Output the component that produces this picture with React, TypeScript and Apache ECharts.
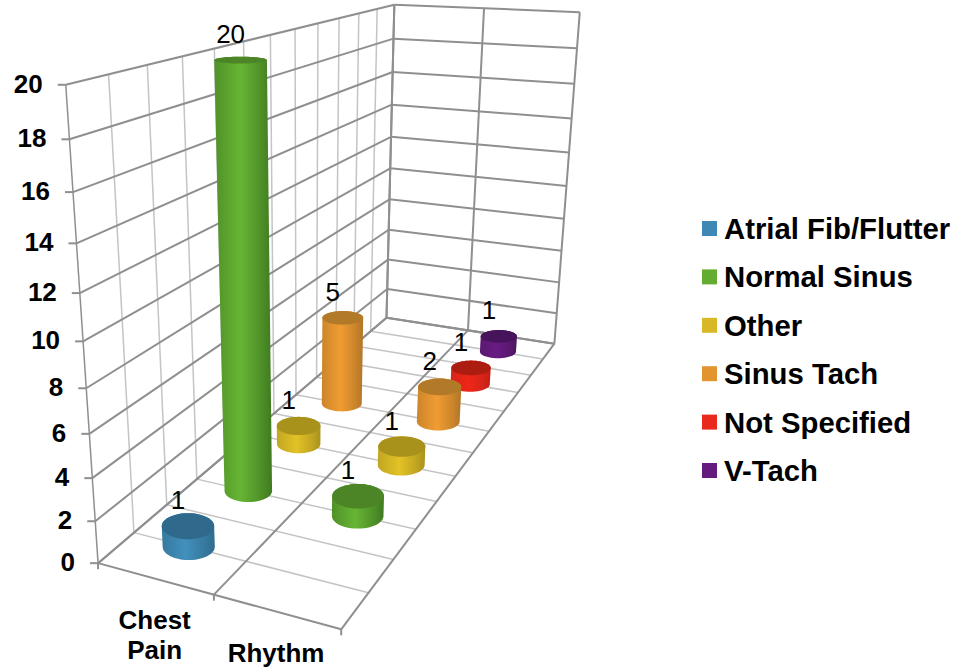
import React, { useEffect, useRef } from "react";
import * as echarts from "echarts";

const categories = ["Chest\nPain", "Rhythm"];
const seriesNames = ["Atrial Fib/Flutter", "Normal Sinus", "Other", "Sinus Tach", "Not Specified", "V-Tach"];
const atrialFib = [1, null];
const normalSinus = [20, 1];
const other = [1, 1];
const sinusTach = [5, 2];
const notSpecified = [null, 1];
const vTach = [null, 1];
const allValues = [atrialFib, normalSinus, other, sinusTach, notSpecified, vTach];
const yTicks = [0, 2, 4, 6, 8, 10, 12, 14, 16, 18, 20];
const depthLines = [0, 0.5, 1, 1.5, 2, 2.5, 3, 3.5, 4, 4.5, 5, 5.5, 6];
const catLines = [0, 1, 2];

const Y_MAX = 20;
const FONT = "'Liberation Sans', Arial, sans-serif";

// palette: [legend, bodyEdgeLeft, bodyCentre, bodyEdgeRight, top]
const palette = [
  ["#3d88b5", "#37799f", "#4290bd", "#2f6d90", "#2f6a8c"],
  ["#62ad2f", "#4f9128", "#67b534", "#3f7a20", "#4b8526"],
  ["#d8b824", "#c2a622", "#e2c226", "#a8921c", "#a8921c"],
  ["#e2952f", "#cc852a", "#f09c32", "#b0752a", "#b27a28"],
  ["#e8291c", "#d6241a", "#ee2618", "#c21e12", "#ad1c10"],
  ["#651a7d", "#5a1870", "#691c84", "#4d1460", "#45145a"],
];

// projection calibration: [u, w, v] world position -> [x, y] on the page
const calib: number[][] = [
  [0, 0, 0, 98, 563],
  [0, 0, 20, 66, 85],
  [0, 6, 0, 387, 318],
  [0, 6, 20, 394, 4],
  [2, 6, 0, 554, 343],
  [2, 6, 20, 580, 12],
  [2, 0, 0, 342, 630],
  [1, 0, 0, 213, 594],
  [1, 6, 0, 468, 331],
  [1, 6, 20, 484, 9],
];

function solveProjection(): number[] {
  const n = 11;
  const A: number[][] = Array.from({ length: n }, () => new Array(n + 1).fill(0));
  const add = (row: number[], rhs: number) => {
    for (let i = 0; i < n; i++) {
      for (let j = 0; j < n; j++) A[i][j] += row[i] * row[j];
      A[i][n] += row[i] * rhs;
    }
  };
  calib.forEach(([u, w, v, x, y]) => {
    const U = u / 2, W = w / 6, V = v / 20, X = x / 1000, Y = y / 1000;
    add([U, W, V, 1, 0, 0, 0, 0, -X * U, -X * W, -X * V], X);
    add([0, 0, 0, 0, U, W, V, 1, -Y * U, -Y * W, -Y * V], Y);
  });
  for (let c = 0; c < n; c++) {
    let p = c;
    for (let r = c + 1; r < n; r++) if (Math.abs(A[r][c]) > Math.abs(A[p][c])) p = r;
    [A[c], A[p]] = [A[p], A[c]];
    for (let r = 0; r < n; r++) {
      if (r === c) continue;
      const f = A[r][c] / A[c][c];
      for (let k = c; k <= n; k++) A[r][k] -= f * A[c][k];
    }
  }
  return A.map((row, i) => row[n] / row[i]);
}
const P = solveProjection();

function proj(u: number, w: number, v: number): number[] {
  const U = u / 2, W = w / 6, V = v / Y_MAX;
  const d = P[8] * U + P[9] * W + P[10] * V + 1;
  return [
    (1000 * (P[0] * U + P[1] * W + P[2] * V + P[3])) / d,
    (1000 * (P[4] * U + P[5] * W + P[6] * V + P[7])) / d,
  ];
}

function hull(points: number[][]): number[][] {
  const pts = points.slice().sort((a, b) => a[0] - b[0] || a[1] - b[1]);
  const cross = (o: number[], a: number[], b: number[]) =>
    (a[0] - o[0]) * (b[1] - o[1]) - (a[1] - o[1]) * (b[0] - o[0]);
  const lo: number[][] = [];
  for (const p of pts) {
    while (lo.length >= 2 && cross(lo[lo.length - 2], lo[lo.length - 1], p) <= 0) lo.pop();
    lo.push(p);
  }
  const up: number[][] = [];
  for (const p of pts.slice().reverse()) {
    while (up.length >= 2 && cross(up[up.length - 2], up[up.length - 1], p) <= 0) up.pop();
    up.push(p);
  }
  return lo.slice(0, -1).concat(up.slice(0, -1));
}

// A disc is drawn as an upright ellipse: its width follows the local category
// length, its flatness follows the height of the point on the page.
const RADIUS_SHARE = 0.228;
const RADIUS_DEPTH_LOSS = 0.005;
const HORIZON_Y = -105;
const FLATNESS = 0.00079;

function disc(u: number, w: number, v: number): { c: number[]; rx: number; ry: number; pts: number[][] } {
  const c = proj(u, w, v);
  const a = proj(u - 0.5, w, v);
  const b = proj(u + 0.5, w, v);
  const rx = (RADIUS_SHARE - RADIUS_DEPTH_LOSS * w) * Math.hypot(b[0] - a[0], b[1] - a[1]);
  const ry = rx * (c[1] - HORIZON_Y) * FLATNESS;
  const pts: number[][] = [];
  for (let i = 0; i < 48; i++) {
    const t = (i / 48) * Math.PI * 2;
    pts.push([c[0] + rx * Math.cos(t), c[1] + ry * Math.sin(t)]);
  }
  return { c, rx, ry, pts };
}

const renderCylinder = (params: any, api: any) => {
  const cat = api.value(0);
  const ser = api.value(1);
  const val = api.value(2);
  const u = cat + 0.5;
  const w = ser + 0.5;
  const [, c1, c2, c3, top] = palette[ser];
  const bottomD = disc(u, w, 0);
  const topD = disc(u, w, val);
  const head = topD.c;
  return {
    type: "group",
    children: [
      {
        type: "polygon",
        shape: { points: hull(bottomD.pts.concat(topD.pts)) },
        style: {
          fill: {
            type: "linear", x: 0, y: 0, x2: 1, y2: 0,
            colorStops: [
              { offset: 0, color: c1 },
              { offset: 0.45, color: c2 },
              { offset: 0.8, color: c1 },
              { offset: 1, color: c3 },
            ],
          },
        },
      },
      { type: "polygon", shape: { points: topD.pts }, style: { fill: top } },
      {
        type: "text",
        style: {
          text: String(val),
          x: head[0] - 10,
          y: head[1] - 26,
          fill: "#000",
          fontSize: 26,
          fontFamily: FONT,
          align: "center",
          verticalAlign: "middle",
        },
      },
    ],
  };
};

const line = (a: number[], b: number[], stroke: string, lineWidth: number) => ({
  type: "line",
  shape: { x1: a[0], y1: a[1], x2: b[0], y2: b[1] },
  style: { stroke, lineWidth },
});

const DARK = "#8f8f8f";
const LIGHT = "#c4c4c4";

const renderFrame = () => {
  const children: any[] = [];
  depthLines.forEach((w) => {
    const edge = w === 0 || w === 6;
    if (w !== 0) children.push(line(proj(0, w, 0), proj(0, w, Y_MAX), edge ? DARK : LIGHT, edge ? 2 : 1.5));
    children.push(line(proj(0, w, 0), proj(2, w, 0), edge ? DARK : LIGHT, edge ? 2 : 1.5));
  });
  children.push(line(proj(0, 0, 0), proj(0, 0, Y_MAX), DARK, 1.5));
  catLines.forEach((u) => {
    children.push(line(proj(u, 0, 0), proj(u, 6, 0), DARK, 2));
    children.push(line(proj(u, 6, 0), proj(u, 6, Y_MAX), DARK, 2));
    const f = proj(u, 0, 0);
    children.push(line(f, [f[0], f[1] + 6], DARK, 2));
  });
  yTicks.forEach((v) => {
    const a = proj(0, 0, v);
    children.push(line(a, proj(0, 6, v), DARK, 2));
    children.push(line(proj(0, 6, v), proj(2, 6, v), DARK, 2));
    children.push(line([a[0] - 8, a[1]], a, DARK, 2));
    children.push({
      type: "text",
      style: {
        text: String(v),
        x: a[0] - 23,
        y: a[1] - 1,
        fill: "#000",
        fontSize: 26,
        fontWeight: "bold",
        fontFamily: FONT,
        align: "right",
        verticalAlign: "middle",
      },
    });
  });
  categories.forEach((c, i) => {
    const f = proj(i + 0.5, 0, 0);
    children.push({
      type: "text",
      style: {
        text: c,
        x: f[0],
        y: f[1] + 26,
        fill: "#000",
        fontSize: 26,
        lineHeight: 30,
        fontWeight: "bold",
        fontFamily: FONT,
        align: "center",
        verticalAlign: "top",
      },
    });
  });
  return { type: "group", children };
};

export default function App() {
  const ref = useRef<HTMLDivElement>(null);
  useEffect(() => {
    const chart = echarts.init(ref.current!, null, { renderer: "svg" });
    chart.setOption({
      animation: false,
      backgroundColor: "#fff",
      legend: {
        orient: "vertical",
        left: 697,
        top: 209,
        data: seriesNames,
        icon: "rect",
        itemWidth: 15,
        itemHeight: 15,
        itemGap: 19.4,
        selectedMode: false,
        textStyle: {
          fontSize: 29.3,
          fontWeight: "bold",
          color: "#000",
          fontFamily: FONT,
          padding: [0, 0, 0, 2],
        },
      },
      series: [
        {
          type: "custom",
          name: "frame",
          coordinateSystem: "none",
          silent: true,
          z: 1,
          data: [[0]],
          renderItem: renderFrame,
        },
        ...seriesNames.map((name, s) => ({
          type: "custom",
          name,
          coordinateSystem: "none",
          silent: true,
          z: 20 - s,
          itemStyle: { color: palette[s][0] },
          data: allValues[s]
            .map((v, c) => (v === null ? null : [c, s, v]))
            .filter(Boolean),
          renderItem: renderCylinder,
        })),
      ],
    });
    return () => chart.dispose();
  }, []);
  return <div ref={ref} style={{ position: "absolute", left: 0, top: 0, width: 956, height: 669 }} />;
}
